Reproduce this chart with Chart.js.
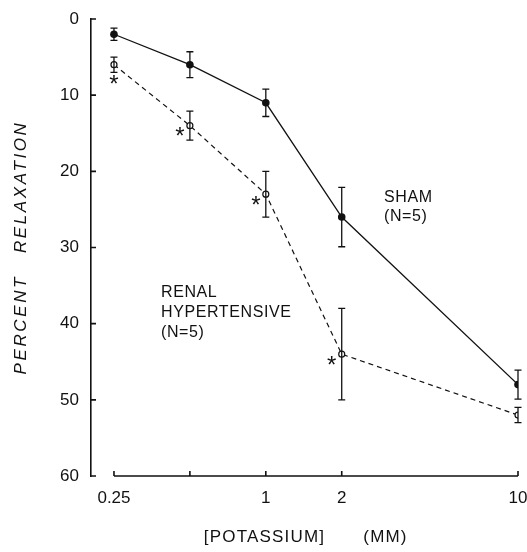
<!DOCTYPE html>
<html>
<head>
<meta charset="UTF-8">
<title>Percent relaxation vs potassium</title>
<script src="https://cdn.jsdelivr.net/npm/chart.js"></script>
<style>
  html, body { margin: 0; padding: 0; background: #fff; }
  #wrap { width: 527px; height: 552px; }
</style>
</head>
<body>
<div id="wrap"><canvas id="chart"></canvas></div>
<script>
// potassium concentration (mM)
var potassium = [0.25, 0.5, 1, 2, 10];
var xTicks = [0.25, 0.5, 1, 2, 10];
var xTickLabels = ['0.25', '', '1', '2', '10'];
var yTicks = [0, 10, 20, 30, 40, 50, 60];

// percent relaxation, mean and SE
var sham = [2, 6, 11, 26, 48];
var shamErr = [0.8, 1.7, 1.8, 3.9, 1.9];
var renal = [6, 14, 23, 44, 52];
var renalErr = [1, 1.9, 3, 6, 1];
// significant difference markers
var renalStar = [true, true, true, true, false];

var ink = '#111';
var font = 'Liberation Sans, Arial, sans-serif';

var extras = {
  id: 'extras',
  afterDatasetsDraw: function (chart) {
    var c = chart.ctx, x = chart.scales.x, y = chart.scales.y, a = chart.chartArea;
    c.save();
    c.strokeStyle = ink;
    c.fillStyle = ink;
    c.lineWidth = 1.3;

    // error bars
    [[sham, shamErr], [renal, renalErr]].forEach(function (s) {
      s[0].forEach(function (v, i) {
        var px = x.getPixelForValue(potassium[i]);
        var y1 = y.getPixelForValue(v - s[1][i]);
        var y2 = y.getPixelForValue(v + s[1][i]);
        c.beginPath();
        c.moveTo(px, y1); c.lineTo(px, y2);
        c.moveTo(px - 3.5, y1); c.lineTo(px + 3.5, y1);
        c.moveTo(px - 3.5, y2); c.lineTo(px + 3.5, y2);
        c.stroke();
      });
    });

    // x axis line, only from first to last tick, ticks pointing in
    var bot = a.bottom;
    c.lineWidth = 1.6;
    c.beginPath();
    c.moveTo(x.getPixelForValue(xTicks[0]), bot);
    c.lineTo(x.getPixelForValue(xTicks[xTicks.length - 1]), bot);
    xTicks.forEach(function (t) {
      var px = x.getPixelForValue(t);
      c.moveTo(px, bot); c.lineTo(px, bot - 5);
    });
    // y axis ticks pointing in
    yTicks.forEach(function (t) {
      var py = y.getPixelForValue(t);
      c.moveTo(a.left, py); c.lineTo(a.left + 5, py);
    });
    c.stroke();

    // asterisks
    c.font = '24px ' + font;
    c.textAlign = 'center';
    c.textBaseline = 'middle';
    renal.forEach(function (v, i) {
      if (!renalStar[i]) return;
      var px = x.getPixelForValue(potassium[i]);
      var py = y.getPixelForValue(v);
      if (i === 0) c.fillText('*', px, py + 21);
      else c.fillText('*', px - 10, py + 12);
    });

    // group labels
    c.font = '16px ' + font;
    c.letterSpacing = '0.6px';
    c.textAlign = 'left';
    c.fillText('SHAM', 384, 198);
    c.fillText('(N=5)', 384, 217);
    c.fillText('RENAL', 161, 293);
    c.fillText('HYPERTENSIVE', 161, 313);
    c.fillText('(N=5)', 161, 333);

    // axis titles
    var cx = (a.left + a.right) / 2;
    c.font = '17px ' + font;
    c.letterSpacing = '1.2px';
    c.textAlign = 'center';
    c.fillText('[POTASSIUM]', cx - 40, 537);
    c.fillText('(MM)', cx + 81, 537);

    c.translate(21, (a.top + a.bottom) / 2);
    c.rotate(-Math.PI / 2);
    c.font = 'italic 17px ' + font;
    c.letterSpacing = '2.6px';
    c.fillText('PERCENT   RELAXATION', 0, 0);
    c.restore();
  }
};

new Chart(document.getElementById('chart'), {
  type: 'line',
  data: {
    datasets: [{
      label: 'Sham',
      data: potassium.map(function (k, i) { return { x: k, y: sham[i] }; }),
      borderColor: ink,
      backgroundColor: ink,
      borderWidth: 1.3,
      pointRadius: 3.8,
      pointBorderWidth: 0,
      tension: 0
    }, {
      label: 'Renal hypertensive',
      data: potassium.map(function (k, i) { return { x: k, y: renal[i] }; }),
      borderColor: ink,
      backgroundColor: '#fff',
      borderWidth: 1.2,
      borderDash: [5, 4],
      pointRadius: 3,
      pointBorderWidth: 1.2,
      pointBackgroundColor: '#fff',
      pointBorderColor: ink,
      tension: 0
    }]
  },
  options: {
    responsive: true,
    maintainAspectRatio: false,
    animation: false,
    layout: { padding: { top: 19, right: 0, left: 0, bottom: 0 } },
    plugins: { legend: { display: false }, tooltip: { enabled: false } },
    scales: {
      x: {
        type: 'logarithmic',
        min: 0.2027,
        max: 10,
        border: { display: false },
        grid: { display: false },
        afterBuildTicks: function (s) { s.ticks = xTicks.map(function (v) { return { value: v }; }); },
        afterFit: function (s) { s.height = 76; s.paddingLeft = 0; s.paddingRight = 9; },
        ticks: {
          color: ink,
          padding: 4,
          maxRotation: 0,
          font: { family: font, size: 17 },
          callback: function (v) { var i = xTicks.indexOf(v); return i < 0 ? '' : xTickLabels[i]; }
        }
      },
      y: {
        reverse: true,
        min: 0,
        max: 60,
        border: { display: true, color: ink, width: 1.6 },
        grid: { display: false },
        afterFit: function (s) { s.width = 91; },
        afterBuildTicks: function (s) { s.ticks = yTicks.map(function (v) { return { value: v }; }); },
        ticks: {
          color: ink,
          padding: 4,
          font: { family: font, size: 17 }
        }
      }
    }
  },
  plugins: [extras]
});
</script>
</body>
</html>
